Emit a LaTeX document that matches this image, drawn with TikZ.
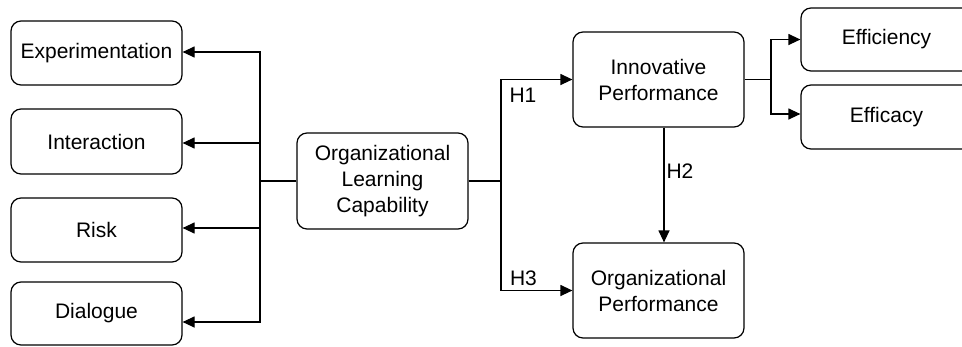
\documentclass[tikz,border=0pt]{standalone}
\usepackage{fontspec}
\setmainfont{Liberation Sans}
\usetikzlibrary{arrows.meta}
\begin{document}
\begin{tikzpicture}[x=1pt,y=-1pt,
  every node/.style={font=\fontsize{21}{26}\selectfont},
  box/.style={draw, line width=1.2pt, rounded corners=10pt, minimum width=171pt, align=center, inner sep=0pt},
  conn/.style={line width=1.2pt},
  arr/.style={conn, -{Triangle[length=12pt,width=11pt]}},
  lbl/.style={inner sep=0pt}]
\useasboundingbox (0,0) rectangle (962,346);
\clip (0,0) rectangle (962,346);
\node[box, minimum height=64pt] (exp) at (96.5,53) {Experimentation};
\node[box, minimum height=65pt] (int) at (96.5,141.5) {Interaction};
\node[box, minimum height=64pt] (risk) at (96.5,230) {Risk};
\node[box, minimum height=63pt] (dia) at (96.5,313.5) {Dialogue};
\node[box, minimum height=96pt] (olc) at (382.5,181) {Organizational\\Learning\\Capability};
\node[box, minimum height=95pt] (ip) at (658.5,79.5) {Innovative\\Performance};
\node[box, minimum height=95pt] (op) at (658.5,290.5) {Organizational\\Performance};
\node[box, minimum height=63pt] (eff) at (886.5,39.5) {Efficiency};
\node[box, minimum height=64pt] (efc) at (886.5,117) {Efficacy};
\coordinate (lj) at (260,181);
\coordinate (rj) at (501,181);
\coordinate (ej) at (771,79.5);
% left fan
\draw[conn] (olc.west) -- (lj);
\draw[arr] (lj) |- ([yshift=1pt]exp.east);
\draw[arr] (lj) |- ([yshift=-1.5pt]int.east);
\draw[arr] (lj) |- ([yshift=2pt]risk.east);
\draw[arr] (lj) |- ([yshift=-8.5pt]dia.east);
% right fan
\draw[conn] (olc.east) -- (rj);
\draw[arr] (rj) |- (ip.west);
\draw[arr] (rj) |- (op.west);
\draw[arr] ([xshift=5.5pt]ip.south) -- ([xshift=5.5pt]op.north);
% IP fan
\draw[conn] (ip.east) -- (ej);
\draw[arr] (ej) |- (eff.west);
\draw[arr] (ej) |- ([yshift=3pt]efc.west);
% labels
\node[lbl] (h1) at (523,95.5) {H1};
\node[lbl] (h2) at (680,171) {H2};
\node[lbl] (h3) at (523.5,278.5) {H3};
\end{tikzpicture}
\end{document}
